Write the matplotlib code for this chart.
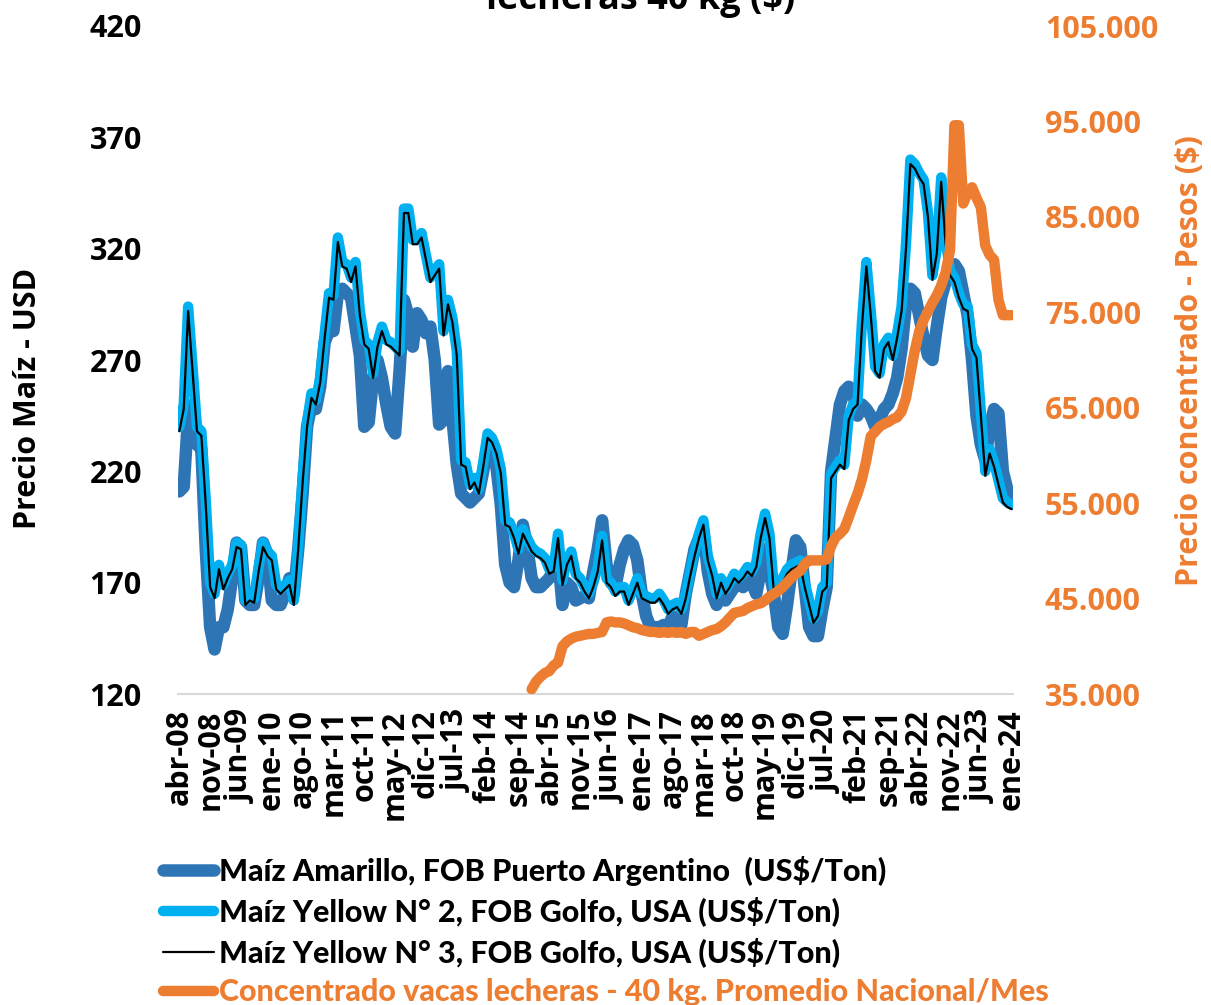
import numpy as np
import matplotlib
matplotlib.use("Agg")
import matplotlib.pyplot as plt
from matplotlib.ticker import FuncFormatter

plt.rcParams['font.family'] = ['Open Sans', 'DejaVu Sans']
plt.rcParams['font.weight'] = 'bold'

# Precios mensuales abr-08 .. ene-24 (US$/Ton)
maiz_arg = [
    211, 213, 245, 250, 232, 230, 185, 150, 140, 150, 150, 158,
    172, 188, 186, 162, 160, 160, 172, 188, 183, 162, 160, 160,
    165, 172, 165, 185, 210, 240, 250, 248, 258, 278, 283, 283,
    300, 302, 300, 298, 285, 272, 240, 242, 262, 270, 262, 250,
    240, 237, 265, 297, 290, 276, 291, 288, 282, 285, 270, 241,
    243, 265, 244, 223, 210, 208, 206, 208, 210, 220, 232, 230,
    222, 205, 178, 170, 168, 180, 196, 186, 172, 168, 168, 170,
    172, 176, 182, 160, 170, 168, 162, 163, 164, 163, 175, 185,
    198, 178, 170, 168, 178, 185, 189, 187, 180, 165, 155, 150,
    150, 150, 151, 150, 155, 150, 151, 165, 175, 185, 190, 193,
    175, 165, 160, 165, 162, 165, 168, 170, 168, 172, 170, 165,
    175, 185, 175, 165, 150, 147, 160, 175, 189, 186, 168, 150,
    146, 146, 158, 168, 220, 235, 250, 256, 258, 255, 245, 250,
    248, 245, 240, 243, 248, 250, 255, 262, 275, 295, 302, 300,
    290, 280, 272, 270, 285, 298, 305, 312, 313, 310, 300, 290,
    270, 245, 232, 225, 240, 248, 246, 220, 212, 206,
]
maiz_yellow2 = [
    240, 250, 294, 267, 240, 238, 207, 170, 165, 178, 169, 174,
    178, 188, 187, 162, 164, 163, 177, 188, 184, 182, 169, 167,
    169, 171, 162, 187, 217, 242, 255, 252, 262, 282, 300, 299,
    325, 314, 313, 307, 314, 292, 279, 277, 264, 278, 285, 279,
    278, 276, 274, 338, 338, 324, 324, 327, 317, 307, 310, 313,
    283, 297, 289, 274, 225, 224, 214, 217, 212, 224, 237, 235,
    230, 221, 198, 197, 192, 185, 194, 190, 186, 184, 183, 181,
    176, 177, 192, 171, 180, 184, 174, 172, 168, 165, 170, 177,
    191, 172, 170, 166, 168, 168, 162, 167, 172, 165, 164, 163,
    163, 165, 162, 158, 160, 161, 158, 165, 175, 184, 192, 198,
    182, 175, 165, 172, 167, 170, 174, 172, 174, 177, 175, 179,
    192, 201, 192, 168, 170, 172, 176, 178, 179, 180, 170, 162,
    154, 157, 168, 170, 219, 222, 225, 223, 245, 250, 252, 287,
    314, 292, 267, 264, 277, 280, 272, 282, 294, 322, 360, 358,
    354, 351, 336, 308, 320, 352, 324, 310, 307, 300, 295, 294,
    277, 273, 247, 220, 230, 224, 216, 208, 206, 205,
]
maiz_yellow3 = [
    238, 248, 292, 265, 238, 236, 205, 168, 163, 176, 167, 172,
    176, 186, 185, 160, 162, 161, 175, 186, 182, 180, 167, 165,
    167, 169, 160, 185, 215, 240, 253, 250, 260, 280, 298, 297,
    323, 312, 311, 305, 312, 290, 277, 275, 262, 276, 283, 277,
    276, 274, 272, 336, 336, 322, 322, 325, 315, 305, 308, 311,
    281, 295, 287, 272, 223, 222, 212, 215, 210, 222, 235, 233,
    228, 219, 196, 195, 190, 183, 192, 188, 184, 182, 181, 179,
    174, 175, 190, 169, 178, 182, 172, 170, 166, 163, 168, 175,
    189, 170, 168, 164, 166, 166, 160, 165, 170, 163, 162, 161,
    161, 163, 160, 156, 158, 159, 156, 163, 173, 182, 190, 196,
    180, 173, 163, 170, 165, 168, 172, 170, 172, 175, 173, 177,
    190, 199, 190, 166, 168, 170, 174, 176, 177, 178, 168, 160,
    152, 155, 166, 168, 217, 220, 223, 221, 243, 248, 250, 285,
    312, 290, 265, 262, 275, 278, 270, 280, 292, 320, 358, 356,
    352, 349, 334, 306, 318, 350, 322, 308, 305, 298, 293, 292,
    275, 271, 245, 218, 228, 222, 214, 206, 204, 203,
]
# Concentrado vacas lecheras 40 kg ($), desde dic-14
concentrado = [
    35500, 36300, 36800, 37200, 37400, 38000, 38300, 40000, 40500, 40800,
    41000, 41100, 41200, 41300, 41300, 41400, 41500, 42500, 42600, 42500,
    42500, 42400, 42200, 42000, 41900, 41700, 41600, 41500, 41500, 41400,
    41500, 41400, 41500, 41400, 41500, 41300, 41500, 41500, 41100, 41300,
    41500, 41700, 41800, 42100, 42500, 43000, 43500, 43600, 43700, 44000,
    44200, 44400, 44500, 44800, 45200, 45500, 45800, 46200, 46700, 47200,
    47600, 47900, 48600, 49000, 49000, 49000, 49000, 49100, 50500, 51400,
    51800, 52300, 53500, 54800, 56000, 57500, 59500, 62000, 62500, 63000,
    63300, 63500, 63800, 64000, 64600, 66000, 68500, 71000, 73000, 74200,
    75100, 76000, 76800, 77800, 79200, 81500, 94600, 94600, 86400, 87500,
    88100, 87000, 86000, 82000, 81000, 80500, 76300, 74700, 74700, 74700,
]
conc_start = 80

tick_labels = ["abr-08", "nov-08", "jun-09", "ene-10", "ago-10", "mar-11", "oct-11",
               "may-12", "dic-12", "jul-13", "feb-14", "sep-14", "abr-15", "nov-15",
               "jun-16", "ene-17", "ago-17", "mar-18", "oct-18", "may-19", "dic-19",
               "jul-20", "feb-21", "sep-21", "abr-22", "nov-22", "jun-23", "ene-24"]

n = len(maiz_yellow3)
x = np.arange(n)
x_conc = np.arange(conc_start, conc_start + len(concentrado))

c_arg = "#2E75B6"
c_y2 = "#00B0F0"
c_or = "#ED7D31"

fig = plt.figure(figsize=(12.11, 10.05), dpi=100)
ax = fig.add_axes([178 / 1211, 1 - 694 / 1005, (1013 - 178) / 1211, (694 - 26) / 1005])
ax2 = ax.twinx()

kw = dict(solid_capstyle="round", solid_joinstyle="round")
l1, = ax.plot(x, maiz_arg, color=c_arg, lw=9, label="Maíz Amarillo, FOB Puerto Argentino  (US$/Ton)", **kw)
l2, = ax.plot(x, maiz_yellow2, color=c_y2, lw=7.5, label="Maíz Yellow N° 2, FOB Golfo, USA (US$/Ton)", **kw)
l3, = ax.plot(x, maiz_yellow3, color="black", lw=1.6, label="Maíz Yellow N° 3, FOB Golfo, USA (US$/Ton)", **kw)
l4, = ax2.plot(x_conc, concentrado, color=c_or, lw=7.5,
               label="Concentrado vacas lecheras - 40 kg. Promedio Nacional/Mes", **kw)

ax.set_xlim(-0.3, n - 0.7)
ax.set_ylim(120, 420)
ax.set_yticks(np.arange(120, 421, 50))
ax2.set_ylim(35000, 105000)
ax2.set_yticks(np.arange(35000, 105001, 10000))
ax2.yaxis.set_major_formatter(FuncFormatter(lambda v, p: f"{v:,.0f}".replace(",", ".")))

ax.set_xticks(np.arange(0, n, 7))
ax.set_xticklabels(tick_labels, rotation=90, fontsize=22, fontweight="bold")

for s in ["top", "left", "right"]:
    ax.spines[s].set_visible(False)
    ax2.spines[s].set_visible(False)
ax.spines["bottom"].set_color("#D9D9D9")
ax.spines["bottom"].set_linewidth(1.5)
ax2.spines["bottom"].set_visible(False)

ax.tick_params(axis="y", length=0, pad=26, labelsize=22)
ax.tick_params(axis="x", length=0, pad=11)
ax2.tick_params(axis="y", length=0, pad=23, labelsize=22, labelcolor=c_or)

fig.text(28 / 1211, 1 - 398 / 1005, "Precio Maíz - USD", rotation=90,
         ha="center", va="center", fontsize=22, fontweight="bold")
fig.text(1190 / 1211, 1 - 361 / 1005, "Precio concentrado - Pesos ($)", rotation=90,
         ha="center", va="center", fontsize=22, fontweight="bold", color=c_or)

fig.text(641 / 1211, 1 - 9 / 1005, "lecheras 40 kg ($)", ha="center", va="baseline",
         fontsize=26, fontweight="bold")

leg = fig.legend(handles=[l1, l2, l3, l4], loc="upper left",
                 bbox_to_anchor=(135 / 1211, 1 - 828 / 1005), frameon=False,
                 handlelength=1.7, handletextpad=0.15, labelspacing=0.36,
                 prop={"family": ["Lato", "DejaVu Sans"], "weight": "black", "size": 22})
leg.get_texts()[3].set_color(c_or)

fig.savefig("out.png", dpi=100)
